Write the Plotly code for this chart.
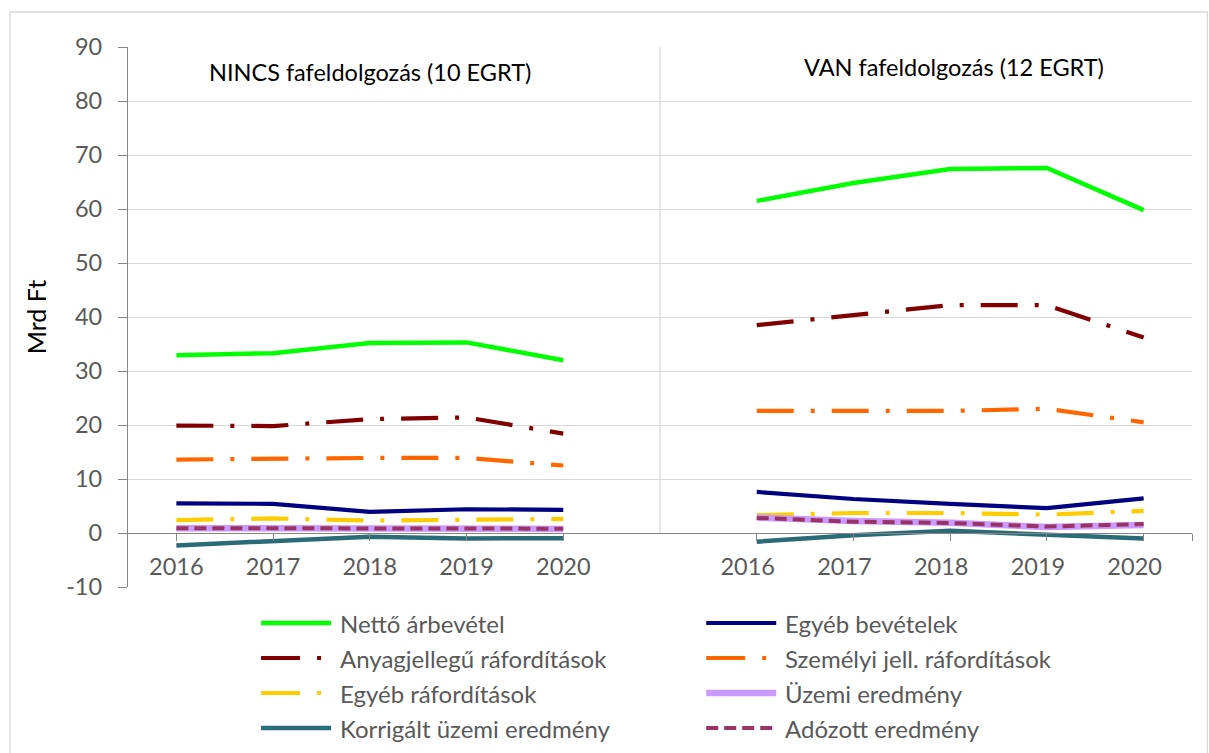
import plotly.graph_objects as go

# ---------------- data ----------------
years = ["2016", "2017", "2018", "2019", "2020"]
panel_titles = ["NINCS fafeldolgozás (10 EGRT)", "VAN fafeldolgozás (12 EGRT)"]
y_axis_title = "Mrd Ft"

series_names = [
    "Nettő árbevétel",
    "Egyéb bevételek",
    "Anyagjellegű ráfordítások",
    "Személyi jell. ráfordítások",
    "Egyéb ráfordítások",
    "Üzemi eredmény",
    "Korrigált üzemi eredmény",
    "Adózott eredmény",
]

# NINCS fafeldolgozás (10 EGRT)
nincs_netto = [32.9, 33.3, 35.2, 35.3, 32.0]
nincs_egyeb_bev = [5.5, 5.4, 3.9, 4.4, 4.3]
nincs_anyag = [19.9, 19.8, 21.1, 21.4, 18.4]
nincs_szemelyi = [13.6, 13.8, 13.9, 13.9, 12.5]
nincs_egyeb_raf = [2.4, 2.7, 2.3, 2.4, 2.6]
nincs_uzemi = [0.9, 0.9, 0.85, 0.85, 0.75]
nincs_korrigalt = [-2.3, -1.6, -0.7, -1.0, -0.95]
nincs_adozott = [0.9, 0.9, 0.85, 0.85, 0.8]

# VAN fafeldolgozás (12 EGRT)
van_netto = [61.5, 64.8, 67.4, 67.6, 59.8]
van_egyeb_bev = [7.6, 6.3, 5.4, 4.6, 6.4]
van_anyag = [38.5, 40.3, 42.2, 42.2, 36.2]
van_szemelyi = [22.6, 22.6, 22.6, 23.0, 20.5]
van_egyeb_raf = [3.3, 3.7, 3.7, 3.4, 4.1]
van_uzemi = [2.85, 2.2, 1.9, 1.1, 1.5]
van_korrigalt = [-1.6, -0.4, 0.4, -0.2, -1.0]
van_adozott = [2.8, 2.1, 1.85, 1.2, 1.65]

nincs_values = [nincs_netto, nincs_egyeb_bev, nincs_anyag, nincs_szemelyi,
                nincs_egyeb_raf, nincs_uzemi, nincs_korrigalt, nincs_adozott]
van_values = [van_netto, van_egyeb_bev, van_anyag, van_szemelyi,
              van_egyeb_raf, van_uzemi, van_korrigalt, van_adozott]

y_tick_values = [-10, 0, 10, 20, 30, 40, 50, 60, 70, 80, 90]
y_tick_labels = ["-10", "0", "10", "20", "30", "40", "50", "60", "70", "80", "90"]

# ---------------- styles ----------------
DASHDOT = "37px,17px,4px,17px"
series_styles = [
    dict(color="#00FF00", width=4.5, dash="solid"),
    dict(color="#000080", width=4.2, dash="solid"),
    dict(color="#800000", width=4.2, dash=DASHDOT),
    dict(color="#FF6600", width=4.2, dash=DASHDOT),
    dict(color="#FFCC00", width=4.2, dash=DASHDOT),
    dict(color="#CC99FF", width=6.5, dash="solid"),
    dict(color="#2A6B78", width=4.5, dash="solid"),
    dict(color="#993366", width=4.0, dash="12px,6px"),
]

FONT = "Lato, 'Open Sans', sans-serif"
GRAY_TXT = "#595959"
GRID = "#D9D9D9"
AXIS = "#868686"
TICK_SIZE = 23.5

# pixel geometry of plot area
W_FIG, H_FIG = 1209, 753
L, R, T, B = 128, 1191.6, 47, 587
PW, PH = R - L, B - T


def px(x):
    return (x - L) / PW


def py(y):
    return (B - y) / PH


n = len(years)
gap_index = n  # blank category between the two panels
x_all = list(range(2 * n + 1))
left_ticks = list(range(n))
right_ticks = list(range(n + 1, 2 * n + 1))

fig = go.Figure()
for name, left, right, st in zip(series_names, nincs_values, van_values, series_styles):
    fig.add_trace(go.Scatter(
        x=x_all,
        y=list(left) + [None] + list(right),
        mode="lines",
        name=name,
        line=dict(color=st["color"], width=st["width"], dash=st["dash"]),
        connectgaps=False,
        showlegend=False,
        hoverinfo="x+y+name",
    ))

# empty trace so that the second category axis (right panel labels) is drawn
fig.add_trace(go.Scatter(x=right_ticks, y=[None] * n, xaxis="x2", yaxis="y",
                         mode="lines", showlegend=False, hoverinfo="skip"))

y_min, y_max = y_tick_values[0], y_tick_values[-1]
zero_pos = (0 - y_min) / (y_max - y_min)

common_x = dict(
    range=[-0.5, 2 * n + 0.5],
    anchor="free", position=zero_pos,
    showgrid=False, zeroline=False,
    ticks="outside", ticklen=7, tickcolor=AXIS, tickwidth=1.3,
    ticklabelstandoff=6,
    tickfont=dict(family=FONT, size=TICK_SIZE, color=GRAY_TXT),
)

fig.update_layout(
    width=W_FIG, height=H_FIG,
    margin=dict(l=L, r=W_FIG - R, t=T, b=H_FIG - B, pad=0),
    paper_bgcolor="white", plot_bgcolor="white",
    font=dict(family=FONT, color=GRAY_TXT),
    showlegend=False,
    xaxis=dict(
        **common_x,
        showline=True, linecolor=AXIS, linewidth=1.3,
        tickvals=left_ticks + [2 * n + 0.5],
        ticktext=years + [""],
    ),
    xaxis2=dict(
        **common_x,
        overlaying="x", side="bottom", showline=False,
        tickvals=right_ticks, ticktext=years,
        ticklabelshift=-9,
    ),
    yaxis=dict(
        range=[y_min, y_max],
        tickvals=y_tick_values, ticktext=y_tick_labels,
        showline=True, linecolor=AXIS, linewidth=1.3,
        showgrid=True, gridcolor=GRID, gridwidth=1.3, zeroline=False,
        ticks="outside", ticklen=9, tickcolor=AXIS, tickwidth=1.3,
        ticklabelstandoff=11,
        tickfont=dict(family=FONT, size=TICK_SIZE, color=GRAY_TXT),
        title=dict(text=y_axis_title, font=dict(family=FONT, size=25, color="black"), standoff=12),
    ),
)

shapes = [
    # outer chart border
    dict(type="rect", xref="paper", yref="paper",
         x0=px(10), x1=px(1207), y0=py(765), y1=py(12),
         line=dict(color=GRID, width=1.3), fillcolor="rgba(0,0,0,0)", layer="below"),
    # divider between the two panels
    dict(type="line", xref="x", yref="y", x0=gap_index, x1=gap_index, y0=0, y1=y_max,
         line=dict(color=GRID, width=1.3), layer="below"),
]

annotations = [
    dict(text=panel_titles[0], xref="paper", yref="paper", x=px(370), y=py(72),
         showarrow=False, xanchor="center", yanchor="middle",
         font=dict(family=FONT, size=23.5, color="black")),
    dict(text=panel_titles[1], xref="paper", yref="paper", x=px(954), y=py(67),
         showarrow=False, xanchor="center", yanchor="middle",
         font=dict(family=FONT, size=23.5, color="black")),
]

# legend (two columns, row-major order)
row_y = [623, 658, 693, 728]
col_x = [(261, 331, 338), (706, 776, 783)]
for i, (name, st) in enumerate(zip(series_names, series_styles)):
    r, c = divmod(i, 2)
    x0, x1, xt = col_x[c]
    yy = py(row_y[r])
    shapes.append(dict(type="line", xref="paper", yref="paper",
                       x0=px(x0), x1=px(x1), y0=yy, y1=yy,
                       line=dict(color=st["color"], width=st["width"],
                                 dash=("39px,17px,4px,17px" if st["dash"] == DASHDOT else st["dash"]))))
    annotations.append(dict(text=name, xref="paper", yref="paper", x=px(xt), y=yy,
                            showarrow=False, xanchor="left", yanchor="middle",
                            font=dict(family=FONT, size=24, color=GRAY_TXT)))

fig.update_layout(shapes=shapes, annotations=annotations)

fig.write_html("out.html", config={"displayModeBar": False},
               post_script="document.body.style.margin='0';")
